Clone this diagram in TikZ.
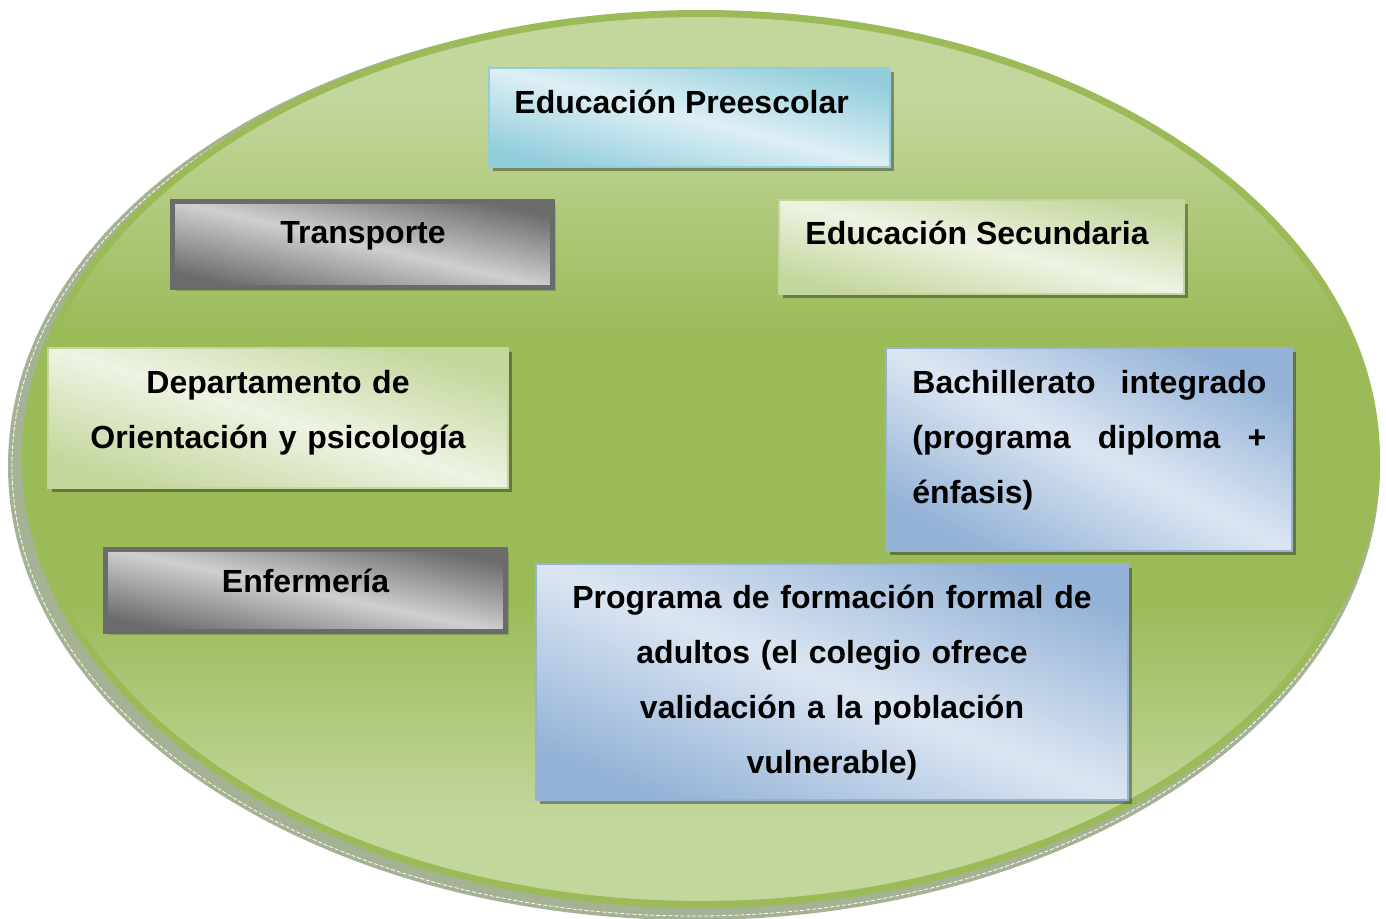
\documentclass[tikz,border=0pt]{standalone}
\usepackage{fontspec}
\setmainfont{Liberation Sans}
\usetikzlibrary{fit,shadows}

\definecolor{ovdark}{HTML}{9BBB59}
\definecolor{ovlight}{HTML}{C3D69B}
\definecolor{ovshadow}{HTML}{A6B294}
\definecolor{aqua}{HTML}{92CDDC}
\definecolor{aqualight}{HTML}{DDEFF4}
\definecolor{sage}{HTML}{C3D69B}
\definecolor{sagelight}{HTML}{EEF3E3}
\definecolor{steel}{HTML}{95B3D7}
\definecolor{steellight}{HTML}{DCE6F2}
\definecolor{greydark}{HTML}{6B6B6B}
\definecolor{greylight}{HTML}{CFCFCF}

\pgfdeclareverticalshading{ovalshade}{100bp}{color(0bp)=(ovlight); color(30bp)=(ovlight); color(42bp)=(ovdark); color(57bp)=(ovdark); color(70bp)=(ovlight); color(100bp)=(ovlight)}

\tikzset{
  panel/.style={rectangle, inner sep=0pt},
  darkshadow/.style={general shadow={shadow xshift=2pt, shadow yshift=-2pt, fill=black, opacity=0.35}},
  paleshadow/.style={general shadow={shadow xshift=1.5pt, shadow yshift=-1.5pt, fill=black, opacity=0.15}},
  aquabox/.style={panel, darkshadow, draw=aqua, line width=0.75pt, top color=aqua, bottom color=aqua, middle color=aqualight},
  sagebox/.style={panel, darkshadow, draw=sage, line width=0.75pt, top color=sage, bottom color=sage, middle color=sagelight},
  steelbox/.style={panel, darkshadow, draw=steel, line width=0.75pt, top color=steel, bottom color=steel, middle color=steellight},
  greybox/.style={panel, paleshadow, draw=greydark, line width=2.5pt, top color=greydark, bottom color=greydark, middle color=greylight},
  lbl/.style={font=\fontsize{16}{27.5}\selectfont\bfseries, inner sep=0pt, execute at begin node=\strut}
}

\begin{document}
\begin{tikzpicture}[x=0.5pt, y=-0.5pt]
    \useasboundingbox[fill=white] (0,0) rectangle (1386,918);

    % oval with its shadow
    \fill[ovshadow] (694,466) ellipse [x radius=343pt, y radius=227pt];
    \draw[white, line width=0.4pt, dash pattern=on 2pt off 1pt] (694,466) ellipse [x radius=341pt, y radius=225pt];
    \draw[ovdark, line width=3.5pt, shading=ovalshade] (701,459) ellipse [x radius=337.75pt, y radius=222.75pt];

    % boxes
    \node[aquabox, shading angle=-14, fit={(489,68) (890,167)}] (pre) {};
    \node[greybox, shading angle=-13, fit={(172.5,201.5) (552.5,287.5)}] (tra) {};
    \node[sagebox, shading angle=-13, fit={(779,200) (1184,294)}] (sec) {};
    \node[sagebox, shading angle=-17, fit={(48,348) (508,488)}] (dep) {};
    \node[steelbox, shading angle=-27, fit={(886,348) (1292,551)}] (bac) {};
    \node[greybox, shading angle=-12, fit={(105.5,549.5) (505.5,631.5)}] (enf) {};
    \node[steelbox, shading angle=-22, fit={(536,564) (1128,800)}] (pro) {};

    % labels
    \node[lbl, anchor=north west] (pre-t) at (514,74.5) {Educación Preescolar};
    \node[lbl, anchor=north] (tra-t) at (363,204.5) {Transporte};
    \node[lbl, anchor=north west] (sec-t) at (805,205.5) {Educación Secundaria};
    \node[lbl, anchor=north, text width=200pt, align=center] (dep-t) at (278,354.5) {Departamento de\\Orientación y psicología};
    \node[lbl, anchor=north west, text width=177pt, align=left] (bac-t) at (912,354.5)
        {Bachillerato\hfill integrado\\(programa\hfill diploma\hfill +\\énfasis)};
    \node[lbl, anchor=north] (enf-t) at (305.5,553.5) {Enfermería};
    \node[lbl, anchor=north, text width=270pt, align=center] (pro-t) at (832,569.5)
        {Programa de formación formal de\\adultos (el colegio ofrece\\validación a la población\\vulnerable)};
\end{tikzpicture}
\end{document}
